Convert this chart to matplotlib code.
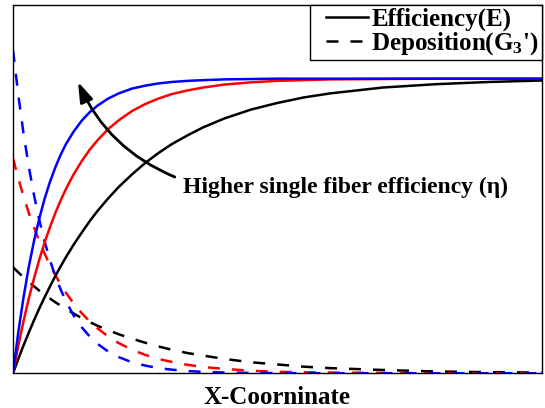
import matplotlib
matplotlib.use("Agg")
import matplotlib.pyplot as plt
from matplotlib.lines import Line2D
from matplotlib.legend_handler import HandlerLine2D

# ---- data (arbitrary units) ----
x = [0, 0.1, 0.2, 0.3, 0.4, 0.5, 0.6, 0.7, 0.8, 0.9,
     1.0, 1.15, 1.3, 1.45, 1.6, 1.8, 2.0, 2.25, 2.5, 2.75,
     3.0, 3.3, 3.6, 4.0, 4.5, 5.0, 5.5, 6.0, 7.0, 8.0, 9.0, 10.0]

eff_black = [0, 0.039, 0.076, 0.111, 0.145, 0.177, 0.207, 0.236, 0.264, 0.290,
             0.315, 0.350, 0.382, 0.413, 0.441, 0.475, 0.506, 0.540, 0.571, 0.598,
             0.622, 0.646, 0.668, 0.692, 0.716, 0.734, 0.749, 0.760, 0.776, 0.785,
             0.791, 0.795]
eff_red = [0, 0.075, 0.142, 0.204, 0.259, 0.310, 0.356, 0.397, 0.435, 0.469,
           0.500, 0.541, 0.576, 0.607, 0.633, 0.663, 0.687, 0.712, 0.731, 0.746,
           0.758, 0.768, 0.776, 0.784, 0.790, 0.794, 0.796, 0.798, 0.799, 0.800,
           0.800, 0.800]
eff_blue = [0, 0.111, 0.207, 0.290, 0.361, 0.422, 0.475, 0.520, 0.559, 0.593,
            0.622, 0.657, 0.686, 0.709, 0.727, 0.746, 0.760, 0.773, 0.781, 0.787,
            0.791, 0.794, 0.796, 0.798, 0.799, 0.800, 0.800, 0.800, 0.800, 0.800,
            0.800, 0.800]

dep_black = [0.288, 0.274, 0.261, 0.248, 0.236, 0.224, 0.213, 0.203, 0.193, 0.184,
             0.175, 0.162, 0.150, 0.139, 0.129, 0.117, 0.106, 0.094, 0.083, 0.073,
             0.064, 0.055, 0.048, 0.039, 0.030, 0.024, 0.018, 0.014, 0.009, 0.005,
             0.003, 0.002]
dep_red = [0.584, 0.529, 0.480, 0.435, 0.395, 0.358, 0.324, 0.294, 0.267, 0.242,
           0.219, 0.189, 0.163, 0.141, 0.122, 0.100, 0.082, 0.064, 0.050, 0.039,
           0.031, 0.023, 0.017, 0.012, 0.007, 0.004, 0.003, 0.002, 0.001, 0.0002,
           0.0001, 0]
dep_blue = [0.878, 0.756, 0.650, 0.560, 0.482, 0.415, 0.357, 0.307, 0.264, 0.228,
            0.196, 0.156, 0.125, 0.100, 0.080, 0.059, 0.044, 0.030, 0.021, 0.014,
            0.010, 0.006, 0.004, 0.002, 0.001, 0.0005, 0.0002, 0.0001, 0, 0,
            0, 0]

series = [("black", eff_black, dep_black),
          ("red", eff_red, dep_red),
          ("blue", eff_blue, dep_blue)]

legend_labels = ["Efficiency(E)", r"Deposition(G$_\mathbf{3}$')"]
annot_text = "Higher single fiber efficiency (\u03b7)"
x_label = "X-Coorninate"

# ---- style ----
plt.rcParams["font.family"] = ["Liberation Serif", "DejaVu Serif"]
plt.rcParams["font.weight"] = "bold"
plt.rcParams["mathtext.fontset"] = "custom"
plt.rcParams["mathtext.rm"] = "Liberation Serif:bold"
plt.rcParams["mathtext.bf"] = "Liberation Serif:bold"
plt.rcParams["mathtext.it"] = "Liberation Serif:bold"

fig = plt.figure(figsize=(5.45, 4.08), dpi=100)
ax = fig.add_axes([13 / 545, (408 - 373.3) / 408, (541.7 - 13) / 545, (373.3 - 5) / 408])

lw = 1.8
dash = (0, (4.8, 4.8))
for color, eff, dep in series:
    ax.plot(x, dep, color=color, lw=lw, linestyle=dash)
for color, eff, dep in series:
    ax.plot(x, eff, color=color, lw=lw, linestyle="-")

ax.set_xlim(0, 10)
ax.set_ylim(0, 1)
ax.set_xticks([])
ax.set_yticks([])
for sp in ax.spines.values():
    sp.set_linewidth(1.0)
    sp.set_color("black")

ax.set_xlabel(x_label, fontsize=18, fontweight="bold", labelpad=9)

# annotation arrow + text
ax.annotate("", xy=(1.23, 0.791), xytext=(3.06, 0.533),
            arrowprops=dict(arrowstyle="-|>,head_length=1.2,head_width=0.4",
                            color="black", lw=2.0,
                            connectionstyle="arc3,rad=-0.2",
                            shrinkA=0, shrinkB=0))
ax.text(3.215, 0.489, annot_text, fontsize=17, fontweight="bold",
        ha="left", va="baseline")

handles = [Line2D([], [], color="black", lw=lw, linestyle="-"),
           Line2D([], [], color="black", lw=lw, linestyle=dash)]
leg = ax.legend(handles, legend_labels, loc="upper right", fontsize=18,
                frameon=True, fancybox=False, framealpha=1, edgecolor="black",
                borderaxespad=0, borderpad=0.12, labelspacing=-0.05,
                handlelength=2.2, handletextpad=0.13,
                handler_map={Line2D: HandlerLine2D(xpad=0.5)})
leg.get_frame().set_linewidth(1.0)

fig.savefig("out.png", dpi=100)
